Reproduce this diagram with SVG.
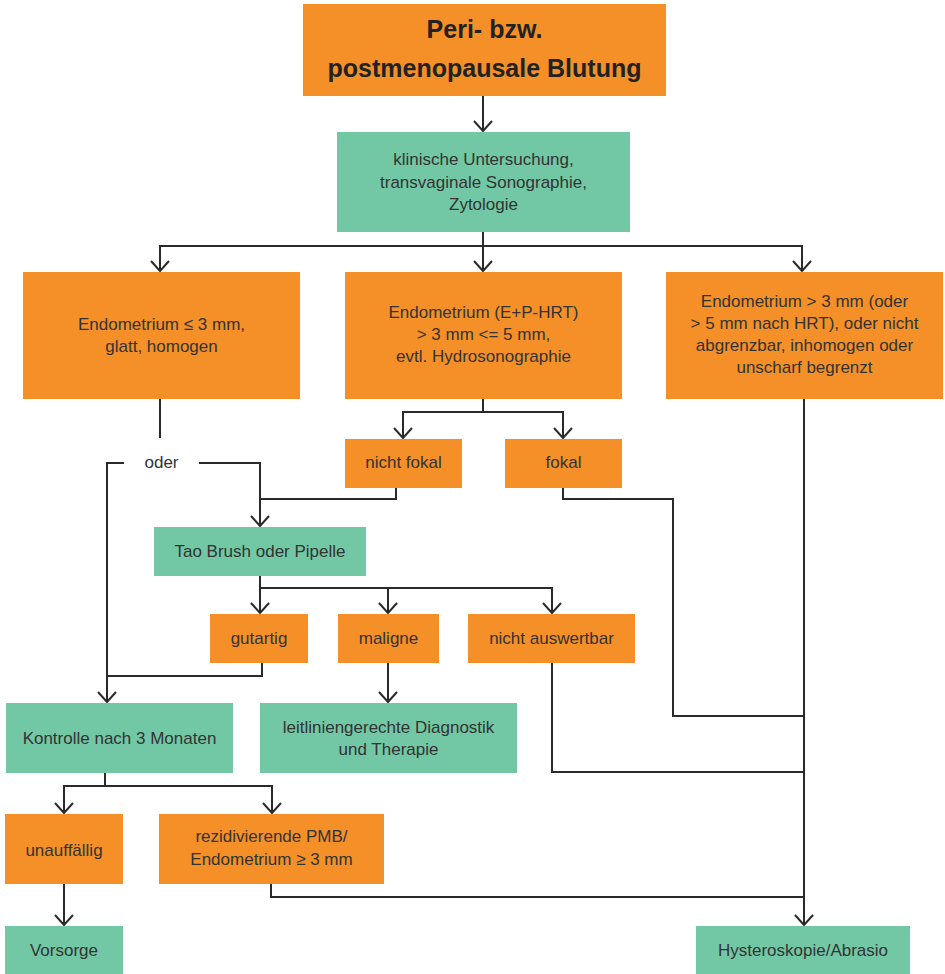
<svg xmlns="http://www.w3.org/2000/svg" width="945" height="974" viewBox="0 0 945 974">
<style>
.o{fill:#F49027}
.g{fill:#72C8A5}
.t{font-family:"Liberation Sans",Arial,sans-serif;font-size:17px;fill:#333333;text-anchor:middle}
.h{font-family:"Liberation Sans",Arial,sans-serif;font-size:25px;font-weight:bold;fill:#222222;text-anchor:middle}
.c{fill:none;stroke:#2a2a2a;stroke-width:2}
</style>
<defs>
<marker id="a" markerUnits="userSpaceOnUse" markerWidth="24" markerHeight="24" viewBox="-12 -12 24 24" refX="0" refY="0" orient="auto" overflow="visible">
<path d="M-10,-9 L0,0 L-10,9" fill="none" stroke="#2a2a2a" stroke-width="2"/>
</marker>
</defs>
<rect width="945" height="974" fill="#ffffff"/>
<g id="connectors">
<path class="c" d="M483,96 V131" marker-end="url(#a)"/>
<path class="c" d="M483,232 V271" marker-end="url(#a)"/>
<path class="c" d="M483,246 H160 V271" marker-end="url(#a)"/>
<path class="c" d="M483,246 H802 V271" marker-end="url(#a)"/>
<path class="c" d="M160,399 V438"/>
<path class="c" d="M124,463 H107 V702" marker-end="url(#a)"/>
<path class="c" d="M199,463 H260 V526" marker-end="url(#a)"/>
<path class="c" d="M396,488 V499 H260"/>
<path class="c" d="M483,399 V412"/>
<path class="c" d="M483,412 H403 V438" marker-end="url(#a)"/>
<path class="c" d="M483,412 H563 V438" marker-end="url(#a)"/>
<path class="c" d="M563,488 V499 H673 V716 H804"/>
<path class="c" d="M804,399 V925" marker-end="url(#a)"/>
<path class="c" d="M260,576 V613" marker-end="url(#a)"/>
<path class="c" d="M260,588 H388 V613" marker-end="url(#a)"/>
<path class="c" d="M388,588 H552 V613" marker-end="url(#a)"/>
<path class="c" d="M262,663 V676 H107"/>
<path class="c" d="M388,663 V702" marker-end="url(#a)"/>
<path class="c" d="M552,663 V772 H804"/>
<path class="c" d="M105,773 V786"/>
<path class="c" d="M105,786 H64 V813" marker-end="url(#a)"/>
<path class="c" d="M105,786 H272 V813" marker-end="url(#a)"/>
<path class="c" d="M64,884 V925" marker-end="url(#a)"/>
<path class="c" d="M271,884 V897 H804"/>
</g>
<g id="title">
<rect class="o" x="303" y="4" width="363" height="92"/>
<text class="h" x="484.5" y="38">Peri- bzw.</text>
<text class="h" x="484.5" y="77">postmenopausale Blutung</text>
</g>
<g id="untersuchung">
<rect class="g" x="337" y="132" width="293" height="100"/>
<text class="t" x="483.5" y="165">klinische Untersuchung,</text>
<text class="t" x="483.5" y="188">transvaginale Sonographie,</text>
<text class="t" x="483.5" y="210">Zytologie</text>
</g>
<g id="endo-left">
<rect class="o" x="23" y="272" width="277" height="127"/>
<text class="t" x="161.5" y="330">Endometrium ≤ 3 mm,</text>
<text class="t" x="161.5" y="352">glatt, homogen</text>
</g>
<g id="endo-mid">
<rect class="o" x="345" y="272" width="277" height="127"/>
<text class="t" x="483.5" y="318">Endometrium (E+P-HRT)</text>
<text class="t" x="483.5" y="340">&gt; 3 mm &lt;= 5 mm,</text>
<text class="t" x="483.5" y="362">evtl. Hydrosonographie</text>
</g>
<g id="endo-right">
<rect class="o" x="666" y="272" width="277" height="127"/>
<text class="t" x="804.5" y="307">Endometrium &gt; 3 mm (oder</text>
<text class="t" x="804.5" y="329">&gt; 5 mm nach HRT), oder nicht</text>
<text class="t" x="804.5" y="351">abgrenzbar, inhomogen oder</text>
<text class="t" x="804.5" y="373">unscharf begrenzt</text>
</g>
<g id="oder">
<text class="t" x="161.5" y="468">oder</text>
</g>
<g id="nicht-fokal">
<rect class="o" x="345" y="439" width="117" height="49"/>
<text class="t" x="403.5" y="468">nicht fokal</text>
</g>
<g id="fokal">
<rect class="o" x="505" y="439" width="117" height="49"/>
<text class="t" x="563.5" y="468">fokal</text>
</g>
<g id="tao">
<rect class="g" x="154" y="527" width="212" height="49"/>
<text class="t" x="260" y="557">Tao Brush oder Pipelle</text>
</g>
<g id="gutartig">
<rect class="o" x="210" y="614" width="98" height="49"/>
<text class="t" x="259" y="644">gutartig</text>
</g>
<g id="maligne">
<rect class="o" x="338" y="614" width="101" height="49"/>
<text class="t" x="388.5" y="644">maligne</text>
</g>
<g id="nicht-auswertbar">
<rect class="o" x="468" y="614" width="167" height="49"/>
<text class="t" x="551.5" y="644">nicht auswertbar</text>
</g>
<g id="kontrolle">
<rect class="g" x="6" y="703" width="227" height="70"/>
<text class="t" x="119.5" y="744">Kontrolle nach 3 Monaten</text>
</g>
<g id="leitlinien">
<rect class="g" x="260" y="703" width="257" height="70"/>
<text class="t" x="388.5" y="733">leitliniengerechte Diagnostik</text>
<text class="t" x="388.5" y="755">und Therapie</text>
</g>
<g id="unauffaellig">
<rect class="o" x="5" y="814" width="118" height="70"/>
<text class="t" x="64" y="856">unauffällig</text>
</g>
<g id="rezidivierend">
<rect class="o" x="159" y="814" width="225" height="70"/>
<text class="t" x="271.5" y="842">rezidivierende PMB/</text>
<text class="t" x="271.5" y="865">Endometrium ≥ 3 mm</text>
</g>
<g id="vorsorge">
<rect class="g" x="5" y="926" width="118" height="48"/>
<text class="t" x="64" y="956">Vorsorge</text>
</g>
<g id="hysteroskopie">
<rect class="g" x="696" y="926" width="214" height="48"/>
<text class="t" x="803" y="956">Hysteroskopie/Abrasio</text>
</g>
</svg>
